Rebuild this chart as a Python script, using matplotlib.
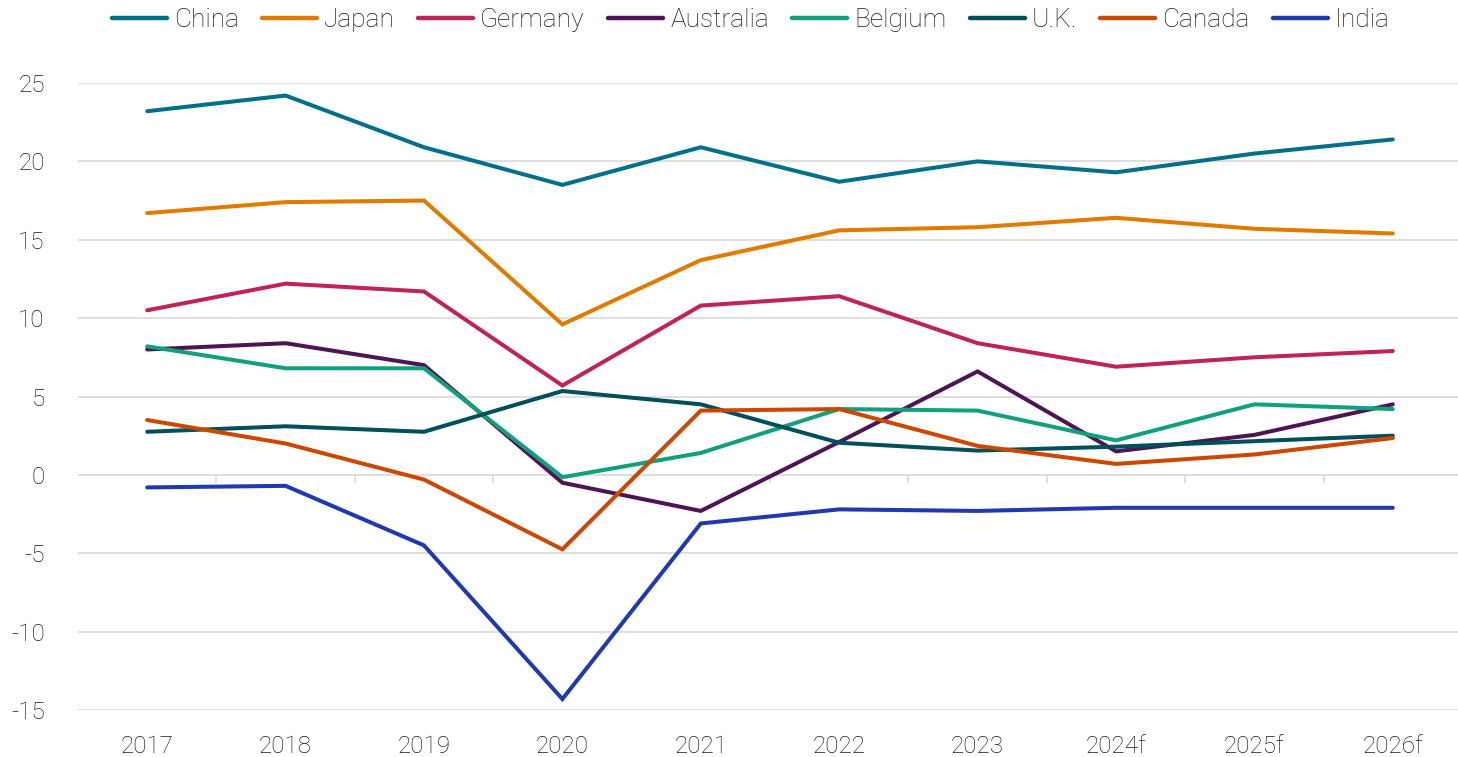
import numpy as np
import matplotlib
matplotlib.use("Agg")
import matplotlib.pyplot as plt

plt.rcParams['font.family'] = ['Roboto', 'DejaVu Sans']
plt.rcParams['axes.unicode_minus'] = False

years = ["2017", "2018", "2019", "2020", "2021", "2022", "2023", "2024f", "2025f", "2026f"]

china = [23.2, 24.2, 20.9, 18.5, 20.9, 18.7, 20.0, 19.3, 20.5, 21.4]
japan = [16.7, 17.4, 17.5, 9.6, 13.7, 15.6, 15.8, 16.4, 15.7, 15.4]
germany = [10.5, 12.2, 11.7, 5.7, 10.8, 11.4, 8.4, 6.9, 7.5, 7.9]
australia = [8.0, 8.4, 7.0, -0.5, -2.3, 2.1, 6.6, 1.5, 2.55, 4.5]
belgium = [8.2, 6.8, 6.8, -0.15, 1.4, 4.2, 4.1, 2.2, 4.5, 4.2]
uk = [2.75, 3.1, 2.75, 5.35, 4.5, 2.05, 1.55, 1.8, 2.15, 2.5]
canada = [3.5, 2.0, -0.3, -4.75, 4.1, 4.2, 1.85, 0.7, 1.3, 2.35]
india = [-0.8, -0.7, -4.5, -14.3, -3.1, -2.2, -2.3, -2.1, -2.1, -2.1]

names = ["China", "Japan", "Germany", "Australia", "Belgium", "U.K.", "Canada", "India"]
colors = ["#00708A", "#E07B00", "#C0235A", "#4E1556", "#11A07B", "#004F5A", "#CC4700", "#2039AE"]
series = [china, japan, germany, australia, belgium, uk, canada, india]

fig = plt.figure(figsize=(14.58, 7.57), dpi=100)
ax = fig.add_axes([78 / 1458, 47 / 757, 1384 / 1458, 627 / 757])

x = np.arange(len(years))
for vals, name, col in zip(series, names, colors):
    ax.plot(x, vals, color=col, lw=2.9, label=name, solid_capstyle='round',
            solid_joinstyle='miter')

ax.set_xlim(-0.5, len(years) - 0.5)
ax.set_ylim(-15, 25)
ax.set_yticks(np.arange(-15, 26, 5))
ax.set_xticks(x)
ax.set_xticklabels(years)
ax.grid(axis='y', color='#dcdcdc', lw=1.3, zorder=0)
ax.set_axisbelow(True)
for s in ax.spines.values():
    s.set_visible(False)
ax.tick_params(axis='x', length=0, pad=18, labelsize=17.5, labelcolor='#1a1a1a')
ax.tick_params(axis='y', length=0, pad=24, labelsize=17.5, labelcolor='#1a1a1a')
for lab in ax.get_xticklabels() + ax.get_yticklabels():
    lab.set_fontweight('light')

# small category separators hanging below the zero line
ax.vlines(x[:-1] + 0.5, -0.5, 0, color='#dcdcdc', lw=1.3, zorder=0)

leg = fig.legend(loc='upper center', bbox_to_anchor=(0.515, 1.02), ncol=8, frameon=False,
                 fontsize=18.9, handlelength=2.1, handletextpad=0.27, columnspacing=0.88)
for t in leg.get_texts():
    t.set_fontweight('light')
    t.set_color('#1a1a1a')
for h in leg.get_lines():
    h.set_linewidth(3.2)

fig.savefig("out.png", dpi=100)
